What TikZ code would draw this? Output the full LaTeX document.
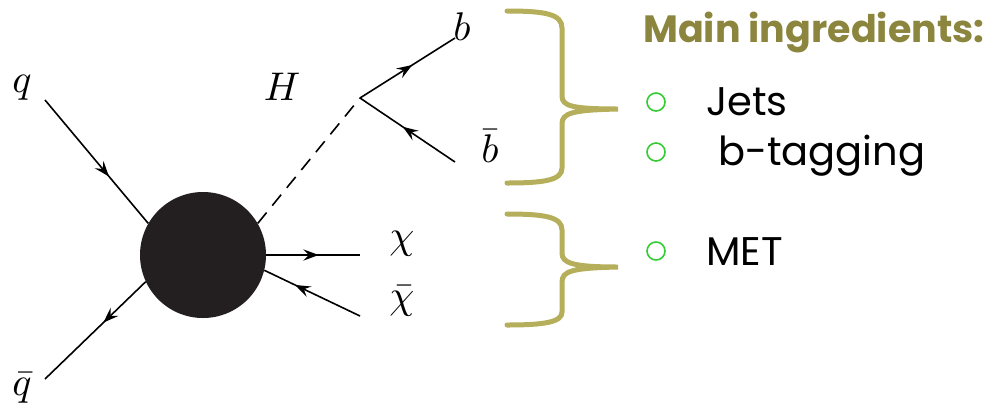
\documentclass[tikz,border=0pt]{standalone}
\usepackage{fontspec}
\usepackage{graphicx}
\newfontfamily\gothic{Poppins}
\usetikzlibrary{decorations.markings,arrows.meta,positioning}

\definecolor{braceolive}{RGB}{181,174,90}
\definecolor{titleolive}{RGB}{139,133,62}
\definecolor{bulletgreen}{RGB}{51,204,51}
\definecolor{blobgray}{RGB}{35,31,32}

\newcommand{\plabel}[1]{\scalebox{4}{$#1$}}

\tikzset{
  fermion/.style={line width=1.6pt, postaction={decorate},
    decoration={markings, mark=at position #1 with {\arrow[scale=1.4]{Stealth[length=11pt,width=8pt,inset=4pt]}}}},
  fermion/.default=0.55,
  scalar/.style={line width=1.6pt, dash pattern=on 14pt off 9pt},
  particle/.style={inner sep=0pt},
  bracket/.style={line width=5pt, draw=braceolive, line cap=round},
  bullet/.style={circle, draw=bulletgreen, line width=1.6pt, minimum size=18pt, inner sep=0pt},
  item/.style={anchor=base west, inner sep=0pt, font=\gothic\fontsize{40}{48}\selectfont},
}

\begin{document}
\begin{tikzpicture}[x=1pt, y=-1pt]
\useasboundingbox (0,0) rectangle (991,408);

% diagram
\node[circle, fill=blobgray, minimum size=126pt, inner sep=0pt] (blob) at (203,255) {};
\coordinate (qin) at (45,100);
\coordinate (qout) at (45,379);
\coordinate (hv) at (360,98);
\coordinate (bend) at (455,38);
\coordinate (bbarend) at (455,162);
\coordinate (chiend) at (360,255);
\coordinate (chibarend) at (360,316);

\draw[fermion=0.62] (qin) -- (blob.150);
\draw[fermion=0.42] (blob.205) -- (qout);
\draw[scalar] (blob.30) -- (hv);
\draw[fermion] (hv) -- (bend);
\draw[fermion] (bbarend) -- (hv);
\draw[fermion=0.56] (blob.0) -- (chiend);
\draw[fermion=0.68] (chibarend) -- (blob.-14);

\node[particle] (ql) at (22,88) {\plabel{q}};
\node[particle] (qbarl) at (22,388) {\plabel{\bar{q}}};
\node[particle] (hl) at (282,87) {\plabel{H}};
\node[particle] (bl) at (462,27) {\plabel{b}};
\node[particle] (bbarl) at (490,146) {\plabel{\bar{b}}};
\node[particle] (chil) at (402,244) {\plabel{\chi}};
\node[particle] (chibarl) at (402,301) {\plabel{\bar{\chi}}};

% brackets
\draw[bracket] (507,11) .. controls (545,11) and (562,14) .. (562,28) -- (562,96)
  .. controls (562,106) and (572,109) .. (618,109)
  .. controls (572,110) and (562,113) .. (562,124) -- (562,168)
  .. controls (562,180) and (545,183) .. (507,183);
\draw[bracket] (507,214) .. controls (545,214) and (562,217) .. (562,230) -- (562,253)
  .. controls (562,263) and (572,267) .. (618,267)
  .. controls (572,268) and (562,271) .. (562,282) -- (562,312)
  .. controls (562,322) and (545,325) .. (507,325);

% ingredients
\node[anchor=base west, inner sep=0pt, text=titleolive, font=\gothic\bfseries\fontsize{38}{46}\selectfont] (title) at (643,42) {Main ingredients:};
\node[bullet] (dot1) at (656,102) {};
\node[bullet] (dot2) at (656,152) {};
\node[bullet] (dot3) at (656,251) {};
\node[item] (jets) at (706,115) {Jets};
\node[item] (btag) at (718,165) {b-tagging};
\node[item] (met) at (706,265) {MET};
\end{tikzpicture}
\end{document}
